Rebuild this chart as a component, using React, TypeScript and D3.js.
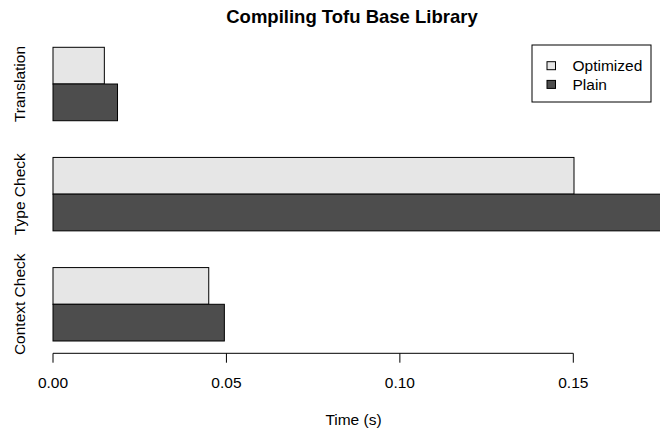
import { useEffect, useRef } from 'react';
import * as d3 from 'd3';

// categories top to bottom, as drawn
const categories = ['Translation', 'Type Check', 'Context Check'];
const seriesNames = ['Optimized', 'Plain'];
const optimizedTimes = [0.0148, 0.1502, 0.0449];
const plainTimes = [0.0186, 0.18, 0.0494];
const xTicks = [0, 0.05, 0.1, 0.15];
const seriesColors = ['#e6e6e6', '#4d4d4d'];

const chartTitle = 'Compiling Tofu Base Library';
const xAxisTitle = 'Time (s)';

const WIDTH = 660;
const HEIGHT = 429;
const FONT = '"Liberation Sans", Arial, Helvetica, sans-serif';

export default function App() {
  const svgRef = useRef<SVGSVGElement | null>(null);

  const drawChart = () => {
    const svgEl = d3.select(svgRef.current);
    svgEl.selectAll('*').remove();

    const xScale = d3.scaleLinear().domain([0, 0.15]).range([53, 573.3]);
    const yScale = d3
      .scaleBand<string>()
      .domain(categories)
      .range([47.3, 341])
      .paddingInner(1 / 3)
      .paddingOuter(0);
    const innerScale = d3
      .scaleBand<string>()
      .domain(seriesNames)
      .range([0, yScale.bandwidth()]);

    const rows = categories.flatMap((category, i) => [
      { category, series: seriesNames[0], value: optimizedTimes[i], color: seriesColors[0] },
      { category, series: seriesNames[1], value: plainTimes[i], color: seriesColors[1] },
    ]);

    svgEl
      .append('g')
      .selectAll('rect')
      .data(rows)
      .enter()
      .append('rect')
      .attr('x', xScale(0))
      .attr('y', (d) => (yScale(d.category) as number) + (innerScale(d.series) as number))
      .attr('width', (d) => xScale(d.value) - xScale(0))
      .attr('height', innerScale.bandwidth())
      .attr('fill', (d) => d.color)
      .attr('stroke', '#000')
      .attr('stroke-width', 1);

    // category labels, rotated
    svgEl
      .append('g')
      .selectAll('text')
      .data(categories)
      .enter()
      .append('text')
      .attr(
        'transform',
        (d) => `translate(25, ${(yScale(d) as number) + yScale.bandwidth() / 2}) rotate(-90)`
      )
      .attr('text-anchor', 'middle')
      .attr('font-family', FONT)
      .attr('font-size', 15.5)
      .attr('fill', '#000')
      .text((d) => d);

    // x axis
    const axisY = 353.3;
    const axisG = svgEl.append('g').attr('stroke', '#000').attr('fill', 'none');
    axisG
      .append('line')
      .attr('x1', xScale(xTicks[0]))
      .attr('x2', xScale(xTicks[xTicks.length - 1]))
      .attr('y1', axisY)
      .attr('y2', axisY);
    axisG
      .selectAll('line.tick')
      .data(xTicks)
      .enter()
      .append('line')
      .attr('class', 'tick')
      .attr('x1', (d) => xScale(d))
      .attr('x2', (d) => xScale(d))
      .attr('y1', axisY)
      .attr('y2', axisY + 9.4);
    svgEl
      .append('g')
      .selectAll('text')
      .data(xTicks)
      .enter()
      .append('text')
      .attr('x', (d) => xScale(d))
      .attr('y', 388.3)
      .attr('text-anchor', 'middle')
      .attr('font-family', FONT)
      .attr('font-size', 15.5)
      .attr('fill', '#000')
      .text((d) => d3.format('.2f')(d));

    svgEl
      .append('text')
      .attr('x', 353.5)
      .attr('y', 424.5)
      .attr('text-anchor', 'middle')
      .attr('font-family', FONT)
      .attr('font-size', 15.5)
      .text(xAxisTitle);

    svgEl
      .append('text')
      .attr('x', 352)
      .attr('y', 22.5)
      .attr('text-anchor', 'middle')
      .attr('font-family', FONT)
      .attr('font-weight', 'bold')
      .attr('font-size', 18.5)
      .text(chartTitle);

    // legend
    const legendG = svgEl.append('g');
    legendG
      .append('rect')
      .attr('x', 532)
      .attr('y', 45)
      .attr('width', 119)
      .attr('height', 57)
      .attr('fill', '#fff')
      .attr('stroke', '#000');
    const legendRows = legendG
      .selectAll('g.row')
      .data(seriesNames)
      .enter()
      .append('g')
      .attr('class', 'row')
      .attr('transform', (_, i) => `translate(0, ${65.7 + i * 18.7})`);
    legendRows
      .append('rect')
      .attr('x', 547)
      .attr('y', -4)
      .attr('width', 8.5)
      .attr('height', 8)
      .attr('fill', (_, i) => seriesColors[i])
      .attr('stroke', '#000');
    legendRows
      .append('text')
      .attr('x', 572.5)
      .attr('y', 5.5)
      .attr('font-family', FONT)
      .attr('font-size', 15.5)
      .text((d) => d);
  };

  useEffect(() => {
    drawChart();
  }, []);

  return (
    <svg
      ref={svgRef}
      width={WIDTH}
      height={HEIGHT}
      style={{ position: 'absolute', left: 0, top: 0, background: '#fff' }}
    />
  );
}
